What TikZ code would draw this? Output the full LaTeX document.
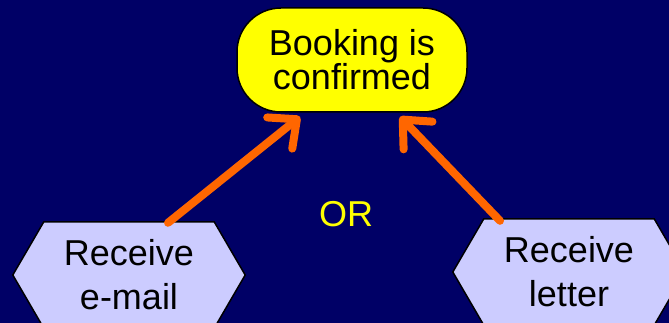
\documentclass[tikz,border=0pt]{standalone}
\usepackage{fontspec}
\setmainfont{Liberation Sans}
\usetikzlibrary{arrows.meta}
\pgfdeclarelayer{under}
\pgfsetlayers{under,main}
\definecolor{navy}{RGB}{0,0,102}
\definecolor{lilac}{RGB}{204,204,255}
\definecolor{flame}{RGB}{255,102,0}
\definecolor{lemon}{RGB}{255,255,0}
\begin{document}
\begin{tikzpicture}[x=1pt,y=-1pt,
  goalbox/.style={draw=black, line width=1.5pt, fill=lemon, rounded corners=44pt,
    minimum width=230pt, minimum height=104pt, inner sep=0pt, align=center,
    font=\fontsize{36}{34}\selectfont},
  hexlabel/.style={minimum width=232pt, minimum height=106pt, inner sep=0pt,
    align=center, font=\fontsize{36}{44}\selectfont},
  hexfill/.style={draw=black, line width=1.5pt, fill=lilac, line join=miter},
  flow/.style={draw=flame, line width=8pt, line cap=round,
    -{Straight Barb[length=22pt, width=40pt, line cap=round, line join=round]}},
  ortext/.style={text=lemon, inner sep=0pt, font=\fontsize{36}{40}\selectfont}
]
\useasboundingbox (0,0) rectangle (669,323);

% goal and the two ways of reaching it
\node[goalbox] (conf) at (352,60) {Booking is\\confirmed};
\node[hexlabel] (lhex) at (129,275) {Receive\\e-mail};
\node[hexlabel] (rhex) at (569,272) {Receive\\letter};
\node[ortext] (or) at (346,214) {OR};

% backdrop and hexagon outlines beneath the labels
\begin{pgfonlayer}{under}
  \fill[navy] (0,0) rectangle (669,323);
  \foreach \n in {lhex,rhex}
    \draw[hexfill] (\n.west) -- ([xshift=31pt]\n.north west)
      -- ([xshift=-31pt]\n.north east) -- (\n.east)
      -- ([xshift=-31pt]\n.south east) -- ([xshift=31pt]\n.south west) -- cycle;
\end{pgfonlayer}

% arrows into the goal
\draw[flow] ([xshift=39pt,yshift=-1pt]lhex.north) -- ([xshift=-52pt,yshift=-4pt]conf.south);
\draw[flow] ([xshift=-69pt,yshift=-2pt]rhex.north) -- ([xshift=48pt,yshift=-4pt]conf.south);
\end{tikzpicture}
\end{document}
